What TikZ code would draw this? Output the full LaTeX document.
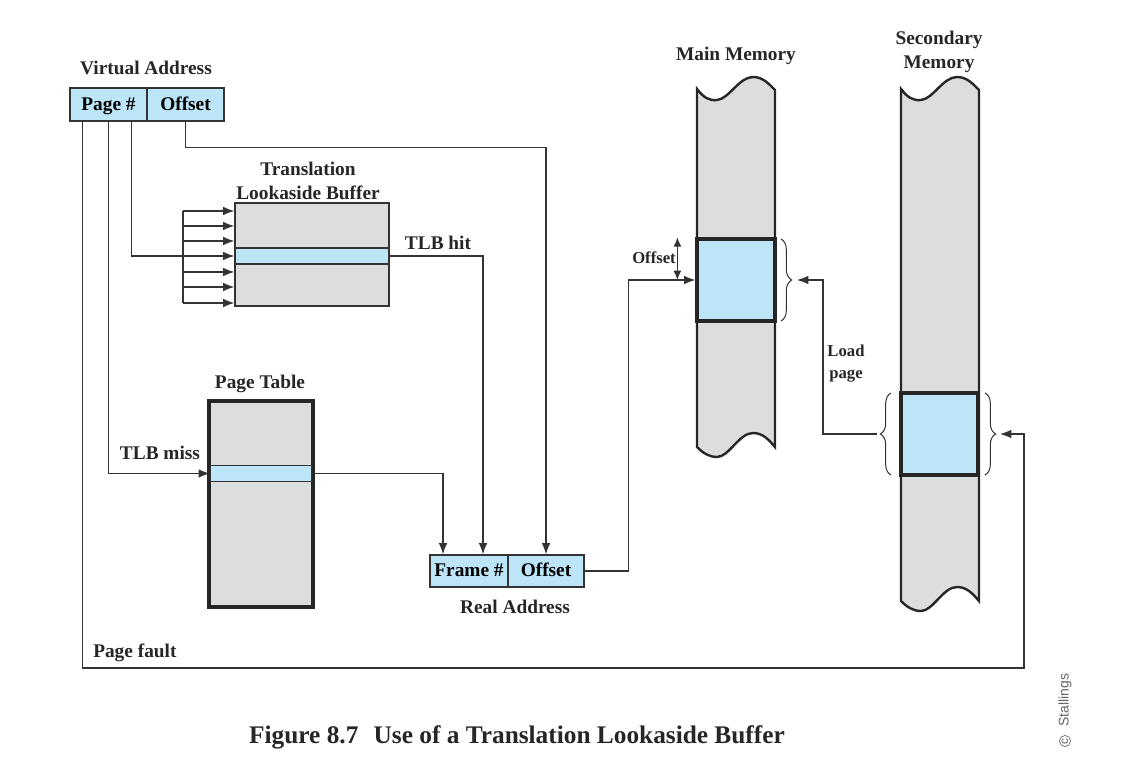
\documentclass[tikz,border=0pt]{standalone}
\usepackage{fontspec}
\setmainfont{Liberation Serif}
\newfontfamily\sansfam{Liberation Sans}
\usetikzlibrary{arrows.meta,calc,decorations.pathreplacing}
\newdimen\px \px=0.75pt
\definecolor{cellblue}{HTML}{BDE5F8}
\definecolor{memgray}{HTML}{DCDDDF}
\definecolor{linec}{HTML}{333333}
\newcommand\memcolumn[3]{%
  \draw[line width=1.8pt, fill=memgray, draw=black!85]
    (#1,#2+12) .. controls (#1+6,#2+20) and (#1+12,#2+24) .. (#1+20,#2+23)
    .. controls (#1+32,#2+22) and (#1+42,#2) .. (#1+56,#2)
    .. controls (#1+66,#2) and (#1+72,#2+7) .. (#1+78,#2+13)
    -- (#1+78,#3)
    .. controls (#1+72,#3-7) and (#1+66,#3-14) .. (#1+56,#3-14)
    .. controls (#1+42,#3-14) and (#1+32,#3+10) .. (#1+20,#3+10)
    .. controls (#1+12,#3+10) and (#1+6,#3+6) .. (#1,#3) -- cycle;}
\tikzset{
  lbl/.style={font=\fontsize{14.5}{17.5}\selectfont\bfseries, text=black!85, inner sep=0pt, align=center},
  small/.style={font=\fontsize{12.5}{16.5}\selectfont\bfseries, text=black!85, inner sep=0pt, align=center},
  cell/.style={draw=linec, line width=1pt, fill=cellblue, inner sep=0pt, text height=10pt, text depth=1.5pt, font=\fontsize{14.5}{17}\selectfont\bfseries},
  table/.style={draw=linec, line width=1pt, fill=memgray, inner sep=0pt},
  thicktable/.style={draw=black!85, line width=2.4pt, fill=memgray, inner sep=0pt},
  thickcell/.style={draw=black!85, line width=2.4pt, fill=cellblue, inner sep=0pt},
  conn/.style={draw=linec, line width=0.9pt},
  arr/.style={conn, -{Latex[length=8.5pt,width=6.5pt]}},
  dblarr/.style={conn, {Latex[length=7pt,width=6pt]}-{Latex[length=7pt,width=6pt]}},
  brc/.style={draw=linec, line width=0.75pt, decoration={brace, amplitude=8pt}, decorate},
}
\begin{document}
\begin{tikzpicture}[x=0.75pt, y=-0.75pt]
\useasboundingbox[fill=white] (0,0) rectangle (1142,770);

% memory columns
\memcolumn{697}{77}{447}
\memcolumn{901}{77}{601}

% Virtual address
\node[lbl] (valbl) at (146,68) {Virtual Address};
\node[cell, minimum width=77\px, minimum height=33\px] (vpage) at (108.5,104.5) {Page \#};
\node[cell, minimum width=77\px, minimum height=33\px] (voff) at (185.5,104.5) {Offset};

% TLB
\node[lbl] (tlblbl) at (308,181) {Translation\\Lookaside Buffer};
\node[table, minimum width=154\px, minimum height=103\px] (tlb) at (312,254.5) {};
\node[cell, minimum width=154\px, minimum height=16\px, text height=0pt, text depth=0pt] (tlbrow) at (312,256) {};
\node[lbl] (hitlbl) at (438,243) {TLB hit};

% Page table
\node[lbl] (ptlbl) at (260,384) {Page Table};
\node[thicktable, minimum width=104\px, minimum height=206\px] (pt) at (261,504) {};
\node[cell, minimum width=101\px, minimum height=16\px, text height=0pt, text depth=0pt] (ptrow) at (261,473.5) {};
\node[lbl] (misslbl) at (160,453) {TLB miss};

% Real address
\node[cell, minimum width=78\px, minimum height=32\px] (rframe) at (469,571) {Frame \#};
\node[cell, minimum width=76\px, minimum height=32\px] (roff) at (546,571) {Offset};
\node[lbl] (ralbl) at (515,607) {Real Address};

% Memories
\node[lbl] (mmlbl) at (736,56) {Main Memory};
\node[lbl] (smlbl) at (939,52) {Secondary\\Memory};
\node[thickcell, minimum width=78\px, minimum height=82\px] (mmblock) at (736,280) {};
\node[thickcell, minimum width=77\px, minimum height=82\px] (smblock) at (939.5,434) {};
\node[small] (offlbl) at (654,258) {Offset};
\node[small] (loadlbl) at (846,364) {Load\\page};
\node[lbl, anchor=west] (pflbl) at (93,653) {Page fault};

% caption and credit
\node[font=\fontsize{19}{22}\selectfont\bfseries, text=black!85, inner sep=0pt] (cap) at (517,737) {Figure 8.7\hspace{0.6em}Use of a Translation Lookaside Buffer};
\node[font=\sansfam\fontsize{10.5}{12}\selectfont, text=black!60, rotate=90, inner sep=0pt] (cred) at (1065,700) {Stallings};
\node[draw=black!60, line width=0.5pt, circle, inner sep=0.6pt, font=\sansfam\fontsize{9}{10}\selectfont, text=black!60, rotate=90] (copyc) at (1065,741) {c};

% coordinates
\coordinate (pfc) at (1024,668);
\coordinate (fantop) at (183,211);
\coordinate (fanbot) at (183,303);
\coordinate (mmR) at (797,280);
\coordinate (smL) at (877,434);
\coordinate (smR) at (1000,434);

% braces
\draw[brc] (781,239) -- (781,321);
\draw[brc] (891,475) -- (891,393);
\draw[brc] (985,393) -- (985,475);

% connectors
\draw[arr] ($(vpage.south west)+(13,0)$) |- (pfc) |- (smR);
\draw[arr] ($(vpage.south west)+(39,0)$) |- (ptrow.west);
\draw[arr] ($(vpage.south west)+(62,0)$) |- (tlbrow.west);
\draw[conn] (fantop) -- (fanbot);
\foreach \yy in {211,226,241,272,287,303}{
  \draw[arr] (183,\yy) -- (tlb.west |- 0,\yy);
}
\draw[arr] (voff.south) -- ++(0,26) -| (roff.north);
\draw[arr] (tlbrow.east) -| ([xshift=14\px]rframe.north);
\draw[arr] (ptrow.east) -| ([xshift=-26\px]rframe.north);
\draw[arr] (roff.east) -- ++(44,0) |- (mmblock.west);
\draw[dblarr] ($(mmblock.north west)+(-18,0)$) -- ($(mmblock.west)+(-18,0)$);
\draw[arr] (smL) -| ($(mmR)+(26,0)$) -- (mmR);
\end{tikzpicture}
\end{document}
